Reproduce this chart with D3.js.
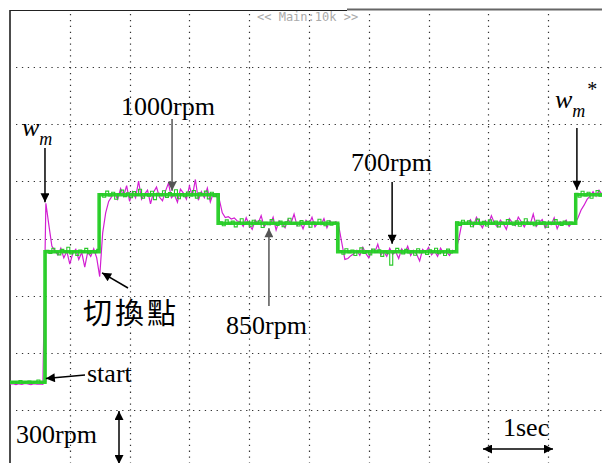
<!DOCTYPE html>
<html><head><meta charset="utf-8">
<script src="https://cdn.jsdelivr.net/npm/d3@7"></script>
<style>html,body{margin:0;padding:0;background:#fff;}svg{display:block;}</style>
</head><body>
<svg id="c" width="602" height="463"></svg>
<script>
// ---- data (time in s, speed in rpm) ----
const sampleStep = 0.05;           // oscilloscope sample period
const refStepTimes  = [0, 0.585, 1.49, 3.48, 5.48, 7.47, 9.46, 9.95];
const refStepLevels = [15, 700, 1000, 850, 700, 850, 1000, 1000];
// w_m* (green) sampled trace
const wmRef = [
  15,19,11,24,13,17,21,12,18,27,13,16,
  708,692,719,697,684,713,700,724,689,703,681,710,698,718,690,705,695,713,
  1006,987,1019,994,1013,976,1005,1024,990,1010,984,1016,997,1029,981,1003,992,1018,974,1008,995,1021,986,1011,998,1026,979,1006,989,1014,994,1022,982,1010,1002,1019,978,1013,990,1005,
  858,837,868,847,861,831,853,874,844,856,834,866,848,863,828,855,842,869,850,839,861,832,858,876,845,852,836,864,847,860,829,856,844,871,850,837,863,840,855,848,
  706,687,716,695,710,681,702,721,692,705,684,714,697,711,676,703,690,630,698,718,708,689,713,694,705,682,716,695,706,686,711,698,719,690,703,681,714,694,705,
  858,839,866,845,863,832,853,872,842,860,836,868,847,861,831,855,844,869,848,840,863,834,856,874,844,853,837,866,847,858,829,855,845,869,852,839,861,842,856,847,
  1008,987,1018,994,1013,981,1005,1022,992,1010
];
// w_m (magenta) sampled trace
const wm = [
  5,8,3,7,4,9,6,2,8,5,7,4,
  955,840,730,705,684,719,668,703,636,692,713,660,697,620,700,676,716,668,
  570,800,905,965,990,
  1008,976,1032,992,1048,965,1016,984,1072,976,1003,1024,952,1013,1040,987,968,1019,1061,984,1000,960,1029,1008,976,1045,992,1080,971,1016,984,1035,962,1008,992,
  975,905,880,885,872,878,862,
  858,834,879,842,818,866,850,890,831,853,842,882,815,863,847,826,869,850,898,837,858,821,866,845,882,831,853,842,874,826,863,847,858,
  830,745,660,665,680,690,
  708,681,724,692,668,713,697,740,684,703,676,719,687,700,665,716,692,729,681,708,687,652,713,697,724,684,705,676,719,692,700,681,708,
  700,760,840,855,
  847,869,834,882,853,826,863,842,890,850,831,866,847,818,874,853,837,882,858,831,863,845,898,834,855,869,826,850,842,879,821,858,847,866,834,853,
  850,880,920,945,975,992,1016,992,1024,1000
];
const gridXDivs = [1,2,3,4,5,6,7,8,9];
const gridYDivs = [1,2,3,4,5,6,7];

// ---- scales ----
const svg = d3.select("#c");
const x = d3.scaleLinear().domain([0, 10]).range([10, 608]);       // 1 s / div
const y = d3.scaleLinear().domain([-430, 1970]).range([467, 10]);  // 300 rpm / div
const yDiv = d3.scaleLinear().domain([0, 8]).range([467, 10]);
const xDiv = x;

// ---- grid ----
const g = svg.append("g");
g.selectAll("line.h").data(gridYDivs).join("line")
  .attr("x1", 16).attr("x2", 602)
  .attr("y1", d => Math.round(yDiv(d)) + 0.5).attr("y2", d => Math.round(yDiv(d)) + 0.5)
  .attr("stroke", "#333").attr("stroke-width", 1.2).attr("stroke-dasharray", "1.3 4.6");
g.selectAll("line.v").data(gridXDivs).join("line")
  .attr("y1", 14).attr("y2", 463)
  .attr("x1", d => Math.round(xDiv(d)) + 0.5).attr("x2", d => Math.round(xDiv(d)) + 0.5)
  .attr("stroke", "#333").attr("stroke-width", 1.2).attr("stroke-dasharray", "1.3 4.6");

// ---- frame ----
svg.append("line").attr("x1", 10).attr("x2", 10).attr("y1", 10).attr("y2", 463)
  .attr("stroke", "#111").attr("stroke-width", 1.5);
svg.append("line").attr("x1", 10).attr("x2", 347).attr("y1", 10.5).attr("y2", 10.5)
  .attr("stroke", "#222").attr("stroke-width", 1);
svg.append("line").attr("x1", 347).attr("x2", 602).attr("y1", 9.5).attr("y2", 9.5)
  .attr("stroke", "#666").attr("stroke-width", 2);

svg.append("text").attr("x", 257).attr("y", 21)
  .attr("font-family", "'DejaVu Sans Mono', monospace").attr("font-size", 12)
  .attr("fill", "#aaa").text("<< Main:10k >>");

// ---- traces ----
svg.append("path").datum(wm)
  .attr("d", d3.line().x((d, i) => x(i * sampleStep)).y(d => y(d)))
  .attr("fill", "none").attr("stroke", "#d21fd2").attr("stroke-width", 1.2);

const refPts = refStepTimes.map((t, i) => [t, refStepLevels[i]]);
svg.append("path").datum(refPts)
  .attr("d", d3.line().x(d => x(d[0])).y(d => y(d[1])).curve(d3.curveStepAfter))
  .attr("fill", "none").attr("stroke", "#2fd22f").attr("stroke-width", 3.5);
svg.append("path").datum(wmRef)
  .attr("d", d3.line().x((d, i) => x(i * sampleStep)).y(d => y(d)).curve(d3.curveStepAfter))
  .attr("fill", "none").attr("stroke", "#28c828").attr("stroke-width", 1.1);

// ---- annotations ----
const defs = svg.append("defs");
function marker(id, color) {
  defs.append("marker").attr("id", id).attr("viewBox", "0 0 10 10")
    .attr("refX", 10).attr("refY", 5).attr("markerWidth", 11).attr("markerHeight", 9)
    .attr("markerUnits", "userSpaceOnUse").attr("orient", "auto-start-reverse")
    .append("path").attr("d", "M0,0 L10,5 L0,10 Z").attr("fill", color);
}
marker("ab", "#000");
marker("ag", "#555");
function arrow(x1, y1, x2, y2, color) {
  svg.append("line").attr("x1", x1).attr("y1", y1).attr("x2", x2).attr("y2", y2)
    .attr("stroke", color).attr("stroke-width", 1.5)
    .attr("marker-end", `url(#${color === "#000" ? "ab" : "ag"})`);
}
const serif = "'Liberation Serif', 'Times New Roman', serif";
function label(tx, ty, txt, size) {
  return svg.append("text").attr("x", tx).attr("y", ty).attr("font-family", serif)
    .attr("font-size", size || 26).attr("fill", "#000").text(txt);
}

// w_m
const wmLab = svg.append("text").attr("x", 22).attr("y", 136).attr("font-family", serif)
  .attr("font-style", "italic").attr("font-size", 26);
wmLab.append("tspan").text("w");
wmLab.append("tspan").attr("font-size", 18).attr("dy", 9).text("m");
arrow(x(0.585), 148, x(0.585), y(955) - 1, "#000");

// 1000rpm
label(121, 115, "1000rpm");
arrow(x(2.71), 119, x(2.71), y(1000) - 4, "#555");

// 700rpm
label(351, 171, "700rpm");
arrow(x(6.39), 182, x(6.39), y(700) - 8, "#000");

// 850rpm
label(226, 334, "850rpm");
arrow(x(4.33), 306, x(4.33), y(850) + 5, "#555");

// w_m*
const wmsLab = svg.append("text").attr("x", 555).attr("y", 108).attr("font-family", serif)
  .attr("font-style", "italic").attr("font-size", 26);
wmsLab.append("tspan").text("w");
wmsLab.append("tspan").attr("font-size", 18).attr("dy", 9).text("m");
wmsLab.append("tspan").attr("font-size", 20).attr("font-style", "normal").attr("dy", -21).attr("dx", 2).text("*");
arrow(x(9.48), 128, x(9.48), y(1000) - 5, "#000");

// 切換點
svg.append("text").attr("x", 83).attr("y", 324)
  .attr("font-family", "'Noto Sans CJK TC', 'Noto Sans CJK SC', sans-serif")
  .attr("font-size", 29).attr("letter-spacing", 3).attr("fill", "#000").text("切換點");
arrow(128, 288, x(1.54), y(590), "#000");

// start
label(87, 382, "start");
arrow(85, 375, x(0.6), y(35), "#000");

// 300rpm
label(16, 443, "300rpm");
arrow(119, 437, 119, 411, "#000");
arrow(119, 437, 119, 464, "#000");

// 1sec
label(503, 436, "1sec");
arrow(518, 449, 483, 449, "#000");
arrow(518, 449, 553, 449, "#000");
</script>
</body></html>
